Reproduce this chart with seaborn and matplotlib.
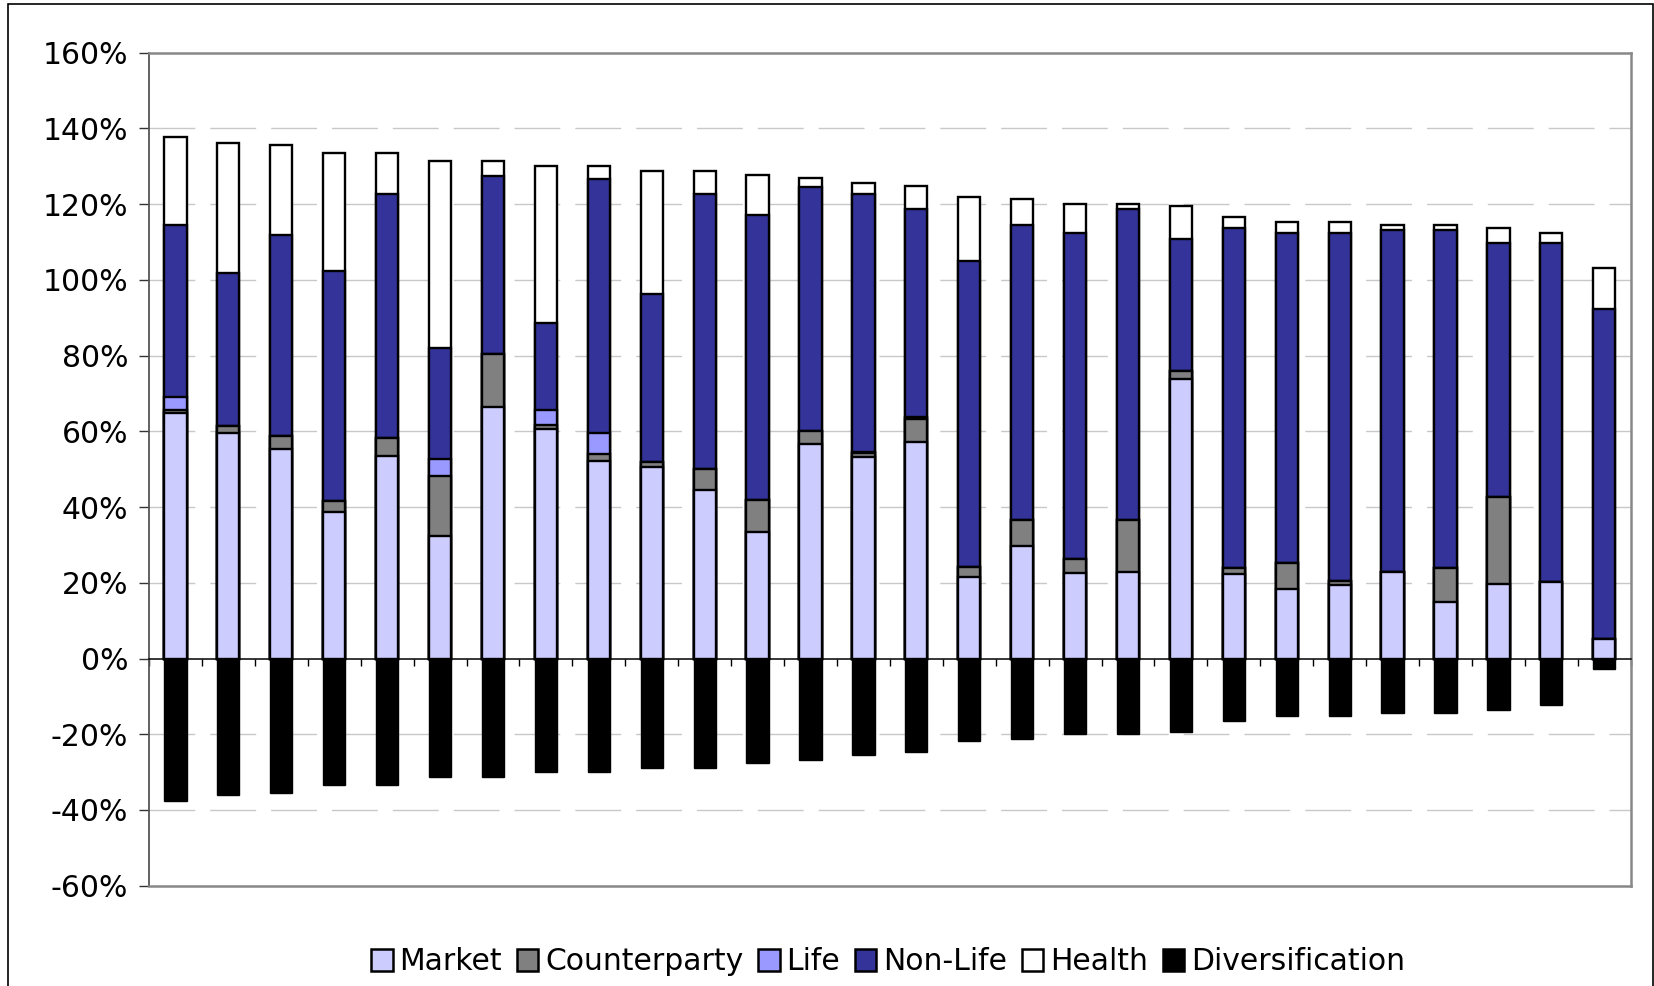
import numpy as np
import pandas as pd
import matplotlib
matplotlib.use("Agg")
import matplotlib.pyplot as plt
from matplotlib.patches import Patch, Rectangle
import seaborn as sns

# one bar per undertaking, values in % of SCR
firms = [str(i) for i in range(1, 29)]
market = [64.8, 59.6, 55.3, 38.8, 53.4, 32.4, 66.3, 60.7, 52.1, 50.6, 44.6, 33.3, 56.7, 53.2,
          57.2, 21.6, 29.8, 22.7, 22.8, 73.8, 22.4, 18.3, 19.4, 22.9, 14.8, 19.6, 20.2, 5.2]
counterparty = [0.9, 1.7, 3.6, 2.7, 4.8, 15.7, 14.2, 0.9, 1.9, 1.3, 5.4, 8.6, 3.5, 1.0,
                6.1, 2.7, 6.9, 3.6, 13.9, 2.1, 1.4, 6.8, 1.0, 0.0, 9.0, 23.0, 0.0, 0.0]
life = [3.3, 0.0, 0.0, 0.0, 0.0, 4.6, 0.0, 4.0, 5.6, 0.0, 0.0, 0.0, 0.0, 0.4,
        0.6, 0.0, 0.0, 0.0, 0.0, 0.0, 0.0, 0.0, 0.0, 0.0, 0.0, 0.0, 0.0, 0.0]
non_life = [45.4, 40.4, 53.0, 60.8, 64.6, 29.2, 46.9, 23.1, 67.1, 44.3, 72.8, 75.3, 64.4, 68.0,
            54.7, 80.6, 77.7, 86.1, 81.9, 34.8, 89.9, 87.3, 92.0, 90.4, 89.5, 67.1, 89.5, 87.0]
health = [23.3, 34.5, 23.7, 31.2, 10.7, 49.6, 4.1, 41.4, 3.5, 32.6, 6.0, 10.4, 2.2, 3.0,
          6.2, 17.1, 7.0, 7.6, 1.4, 8.7, 2.8, 3.0, 3.0, 1.2, 1.2, 4.1, 2.8, 10.9]
diversification = [-37.6, -36.1, -35.5, -33.4, -33.4, -31.4, -31.4, -30.0, -30.1, -28.8, -28.8, -27.5, -26.8, -25.5,
                   -24.8, -21.9, -21.2, -19.9, -19.9, -19.3, -16.6, -15.2, -15.2, -14.4, -14.4, -13.7, -12.4, -2.9]

series = ["Market", "Counterparty", "Life", "Non-Life", "Health"]
colors = {"Market": "#CCCCFF", "Counterparty": "#808080", "Life": "#9999FF",
          "Non-Life": "#333399", "Health": "#FFFFFF", "Diversification": "#000000"}

df = pd.DataFrame({"firm": firms, "Market": market, "Counterparty": counterparty,
                   "Life": life, "Non-Life": non_life, "Health": health,
                   "Diversification": diversification})

# cumulative tops, drawn from the highest layer down so they stack
cum = df[series].cumsum(axis=1)

W, H = 1654, 986
fig = plt.figure(figsize=(W / 100, H / 100), dpi=100)
ax = fig.add_axes([149 / W, 1 - 885.7 / H, (1630.7 - 149) / W, (885.7 - 52.7) / H])

# dashed gridlines
for v in [-40, -20, 20, 40, 60, 80, 100, 120, 140]:
    ax.axhline(v, color="#c8c8c8", lw=1.0, linestyle=(0, (33, 10.8)), zorder=0.5)

for s in reversed(series):
    sns.barplot(data=cum.assign(firm=df["firm"]), x="firm", y=s, order=firms, color=colors[s],
                saturation=1, width=0.42, edgecolor="black", linewidth=1.7, errorbar=None, ax=ax)
sns.barplot(data=df, x="firm", y="Diversification", order=firms, color="black",
            saturation=1, width=0.42, edgecolor="black", linewidth=1.0, errorbar=None, ax=ax)

ax.set_xlim(-0.5, 27.5)
ax.set_ylim(-60, 160)
ax.set_xlabel("")
ax.set_ylabel("")

yt = list(range(-60, 161, 20))
ax.set_yticks(yt, labels=[f"{v}%" for v in yt])
ax.tick_params(axis="y", direction="out", length=7, width=1, color="#333333",
               labelsize=21.5, pad=8)

# category axis sits on the 0% line
ax.spines["bottom"].set_position(("data", 0))
ax.spines["bottom"].set_color("black")
ax.spines["bottom"].set_linewidth(1.1)
ax.set_xticks(np.arange(-0.5, 28, 1))
ax.tick_params(axis="x", direction="out", length=5, width=1, color="black",
               labelbottom=False)
ax.spines["bottom"].set_zorder(5)

for side in ["top", "right"]:
    ax.spines[side].set_color("#888888")
    ax.spines[side].set_linewidth(1.8)
ax.spines["left"].set_color("#555555")
ax.spines["left"].set_linewidth(1.3)
ax.axhline(-60, color="#888888", lw=1.8, clip_on=False, zorder=5)

handles = [Patch(facecolor=colors[s], edgecolor="black", linewidth=1.8)
           for s in series + ["Diversification"]]
fig.legend(handles, series + ["Diversification"], loc="center",
           bbox_to_anchor=(888 / W, 1 - 962 / H), ncol=6, frameon=False,
           fontsize=21.5, handlelength=0.72, handleheight=0.72,
           handletextpad=0.22, columnspacing=0.5)

# outer chart frame
fig.add_artist(Rectangle((8.3 / W, -0.1), (1652.5 - 8.3) / W, 1.1 - 4.3 / H,
                         transform=fig.transFigure, fill=False, edgecolor="black", lw=1.2))

fig.savefig("out.png", dpi=100)
